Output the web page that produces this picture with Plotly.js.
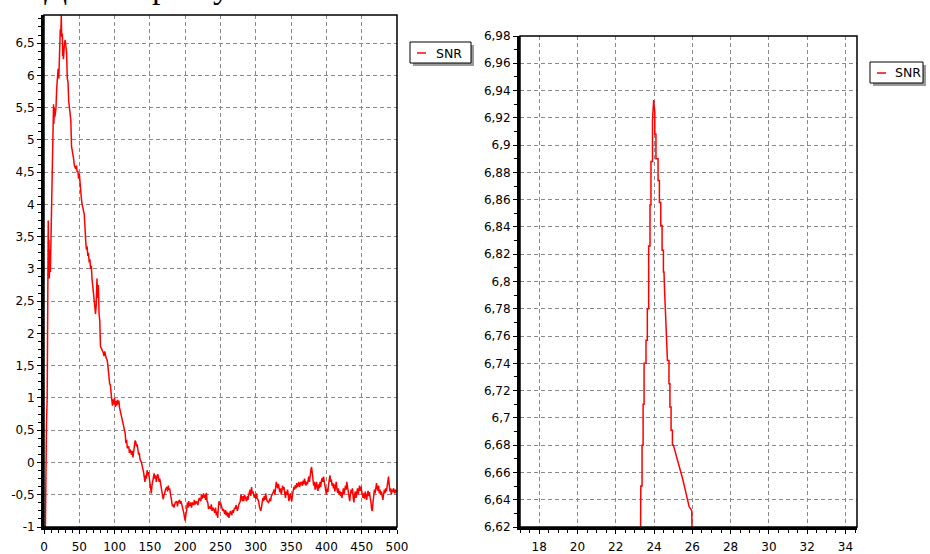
<!DOCTYPE html>
<html>
<head>
<meta charset="utf-8">
<script src="https://cdn.plot.ly/plotly-3.0.1.min.js"></script>
<style>
html,body{margin:0;padding:0;background:#fff;width:930px;height:554px;overflow:hidden;}
#left{position:absolute;left:0;top:0;width:476px;height:554px;}
#right{position:absolute;left:476px;top:0;width:454px;height:554px;}
#head{position:absolute;left:0;top:0;width:470px;height:14px;overflow:hidden;z-index:5;
      font-family:'Liberation Serif','Times New Roman',serif;font-size:34px;color:#000;}
#head span{position:absolute;top:-33px;line-height:40px;white-space:pre;}
</style>
</head>
<body>
<div id="left"></div>
<div id="right"></div>
<div id="head"><span style="left:44px">Д</span><span style="left:152px">р</span><span style="left:213px">у</span></div>
<script>
// ---------- DATA ----------
const seriesName = 'SNR';

// full run (left chart)
const snrX = [0,1,2,2.4,3.5,4.5,5,5.5,6,6.5,7,7.5,8,9,9.5,10,11,11.5,12,13,13.5,14,14.5,15,16,17,18,19,20,21,22,23,24,24.5,25,26,26.5,27,27.5,28,29,30,31,32,33,34,35,36,37,38,39,40,41,42,43,44,45,46,47,48,49,50,51,52,53,54,55,56,57,58,59,60,61,62,63,64,65,66,67,68,69,70,71,72,73,74,75,76,77,78,79,80,81,82,84,85,86,88,89,90,91,92,93,94,95,96,97,98,99,100,101,102,103,104,105,106,107,108,110,111,113,115,116,117,118,120,121,122,124,125,126,127,128,129,130,131,132,134,135,136,138,139,140,141,142,143,144,145,146,147,148,149,150,151,152,153,154,155,156,157,158,159,160,161,162,163,164,165,166,167,168,169,170,171,172,174,175,176,177,178,179,180,181,182,183,184,186,188,189,190,192,193,194,196,197,198,199,200,201,202,203,204,205,206,208,209,210,212,213,214,216,218,219,220,222,223,224,226,227,228,229,230,231,232,233,234,236,237,238,239,240,242,243,244,245,246,247,248,249,250,252,253,254,256,257,258,259,260,261,262,263,264,266,267,268,270,271,272,273,274,276,278,279,280,281,282,283,284,286,287,288,289,290,292,293,294,295,296,298,299,300,301,302,304,305,306,307,308,309,310,311,312,313,314,315,316,318,320,321,322,324,326,327,328,329,330,331,332,333,334,335,336,337,338,339,340,341,342,343,344,345,346,347,348,349,350,351,352,353,354,355,356,357,358,359,360,361,362,363,364,366,367,368,369,370,371,372,373,374,375,376,377,378,379,380,381,382,383,384,385,386,387,388,389,390,391,392,393,394,395,396,397,398,399,400,401,402,403,404,405,406,407,408,409,410,411,412,413,414,415,416,417,418,419,420,421,422,423,424,425,426,427,428,429,430,431,432,433,434,435,436,437,438,439,440,441,442,443,444,445,446,447,448,449,450,451,452,453,454,455,456,457,458,459,460,461,462,463,464,465,466,467,468,469,470,471,472,473,474,475,476,477,478,479,480,481,482,483,484,485,486,487,488,489,490,491,492,493,494,495,496,497,498,499,500];
const snrY = [-1.05,-1.05,-1.0,0.35,0.6,1.0,2.6,2.7,3.75,3.1,3.45,2.85,3.3,2.95,3.3,3.2,3.9,4.7,4.8,5.3,5.55,5.25,5.5,5.35,5.4,5.5,5.8,6.05,6.1,5.95,6.35,6.7,6.72,6.93,6.6,6.65,6.3,6.45,6.25,6.4,6.5,6.55,6.4,6.35,5.95,5.9,5.6,5.45,5.4,5.3,4.9,4.85,4.8,4.7,4.6,4.58,4.55,4.6,4.5,4.52,4.4,4.48,4.3,4.1,4.08,4.0,3.92,3.9,3.85,3.5,3.45,3.3,3.35,3.2,3.25,3.1,3.15,3.0,3.05,2.85,2.75,2.6,2.5,2.4,2.3,2.45,2.85,2.55,2.75,2.3,2.2,1.8,1.78,1.75,1.7,1.65,1.72,1.62,1.6,1.55,1.4,1.35,1.22,1.2,1.0,0.97,0.88,0.98,0.9,1.0,0.86,0.95,0.88,0.97,0.9,0.96,0.85,0.8,0.72,0.65,0.6,0.45,0.3,0.35,0.22,0.25,0.15,0.2,0.12,0.18,0.08,0.2,0.3,0.34,0.32,0.25,0.28,0.12,0.15,0.05,0.0,-0.08,-0.1,-0.15,-0.28,-0.3,-0.2,-0.25,-0.12,-0.2,-0.15,-0.22,-0.3,-0.4,-0.48,-0.35,-0.3,-0.22,-0.17,-0.25,-0.2,-0.3,-0.25,-0.18,-0.22,-0.3,-0.25,-0.35,-0.42,-0.45,-0.52,-0.57,-0.5,-0.48,-0.42,-0.38,-0.45,-0.36,-0.42,-0.4,-0.48,-0.55,-0.62,-0.68,-0.65,-0.7,-0.62,-0.6,-0.68,-0.62,-0.58,-0.64,-0.6,-0.68,-0.72,-0.78,-0.85,-0.9,-0.8,-0.75,-0.62,-0.7,-0.6,-0.68,-0.62,-0.7,-0.62,-0.66,-0.58,-0.65,-0.6,-0.66,-0.58,-0.55,-0.6,-0.5,-0.56,-0.48,-0.55,-0.5,-0.58,-0.47,-0.6,-0.62,-0.72,-0.68,-0.72,-0.65,-0.75,-0.7,-0.72,-0.78,-0.7,-0.82,-0.76,-0.86,-0.7,-0.6,-0.66,-0.62,-0.7,-0.75,-0.72,-0.8,-0.74,-0.82,-0.76,-0.84,-0.78,-0.86,-0.8,-0.75,-0.82,-0.74,-0.78,-0.7,-0.72,-0.66,-0.7,-0.75,-0.65,-0.6,-0.5,-0.55,-0.6,-0.52,-0.6,-0.5,-0.55,-0.6,-0.52,-0.58,-0.5,-0.42,-0.52,-0.38,-0.48,-0.45,-0.55,-0.5,-0.56,-0.48,-0.55,-0.6,-0.68,-0.72,-0.75,-0.7,-0.62,-0.55,-0.6,-0.52,-0.58,-0.48,-0.55,-0.6,-0.62,-0.56,-0.6,-0.52,-0.48,-0.42,-0.5,-0.38,-0.3,-0.36,-0.4,-0.33,-0.42,-0.46,-0.4,-0.5,-0.44,-0.36,-0.42,-0.38,-0.48,-0.55,-0.45,-0.5,-0.42,-0.56,-0.6,-0.52,-0.48,-0.56,-0.6,-0.5,-0.45,-0.38,-0.42,-0.35,-0.4,-0.32,-0.38,-0.34,-0.3,-0.38,-0.33,-0.3,-0.36,-0.28,-0.34,-0.25,-0.3,-0.36,-0.3,-0.34,-0.28,-0.22,-0.3,-0.18,-0.12,-0.07,-0.15,-0.3,-0.36,-0.3,-0.42,-0.36,-0.3,-0.4,-0.44,-0.34,-0.4,-0.3,-0.38,-0.28,-0.24,-0.3,-0.22,-0.3,-0.36,-0.44,-0.5,-0.4,-0.46,-0.35,-0.28,-0.2,-0.3,-0.26,-0.36,-0.32,-0.4,-0.34,-0.45,-0.38,-0.3,-0.42,-0.47,-0.4,-0.5,-0.44,-0.52,-0.46,-0.55,-0.48,-0.4,-0.5,-0.45,-0.36,-0.42,-0.3,-0.38,-0.45,-0.55,-0.6,-0.5,-0.42,-0.48,-0.4,-0.55,-0.62,-0.5,-0.45,-0.55,-0.48,-0.4,-0.5,-0.45,-0.36,-0.44,-0.38,-0.45,-0.5,-0.55,-0.48,-0.56,-0.45,-0.5,-0.58,-0.5,-0.44,-0.52,-0.46,-0.55,-0.6,-0.72,-0.75,-0.62,-0.5,-0.42,-0.48,-0.38,-0.32,-0.4,-0.44,-0.36,-0.48,-0.42,-0.5,-0.45,-0.52,-0.58,-0.5,-0.42,-0.48,-0.4,-0.45,-0.38,-0.28,-0.22,-0.35,-0.45,-0.4,-0.5,-0.42,-0.46,-0.4,-0.44,-0.48,-0.42,-0.45,-0.44];

// peak detail (right chart)
const peakX = [23.29,23.31,23.31,23.375,23.375,23.43,23.43,23.48,23.48,23.58,23.58,23.65,23.65,23.72,23.72,23.79,23.79,23.84,23.84,23.92,23.92,23.98,24.04,24.04,24.10,24.10,24.21,24.21,24.28,24.28,24.35,24.35,24.42,24.42,24.49,24.49,24.52,24.56,24.62,24.70,24.70,24.78,24.78,24.83,24.83,24.89,24.89,24.96,24.96,25.01,25.25,25.5,25.7,25.83,25.97,25.99,26.0];
const peakY = [6.60,6.62,6.65,6.65,6.68,6.68,6.71,6.71,6.74,6.74,6.757,6.757,6.78,6.78,6.826,6.826,6.856,6.856,6.888,6.888,6.918,6.933,6.924,6.908,6.908,6.890,6.890,6.874,6.874,6.858,6.858,6.841,6.841,6.823,6.823,6.807,6.807,6.79,6.77,6.75,6.742,6.742,6.725,6.725,6.708,6.708,6.691,6.691,6.68,6.68,6.668,6.655,6.643,6.635,6.632,6.62,6.60];

// ticks
const leftXTickVals = [0,50,100,150,200,250,300,350,400,450,500];
const leftXTickText = ['0','50','100','150','200','250','300','350','400','450','500'];
const leftYTickVals = [-1,-0.5,0,0.5,1,1.5,2,2.5,3,3.5,4,4.5,5,5.5,6,6.5];
const leftYTickText = ['-1','-0,5','0','0,5','1','1,5','2','2,5','3','3,5','4','4,5','5','5,5','6','6,5'];
const rightXTickVals = [18,20,22,24,26,28,30,32,34];
const rightXTickText = ['18','20','22','24','26','28','30','32','34'];
const rightYTickVals = [6.62,6.64,6.66,6.68,6.70,6.72,6.74,6.76,6.78,6.80,6.82,6.84,6.86,6.88,6.90,6.92,6.94,6.96,6.98];
const rightYTickText = ['6,62','6,64','6,66','6,68','6,7','6,72','6,74','6,76','6,78','6,8','6,82','6,84','6,86','6,88','6,9','6,92','6,94','6,96','6,98'];

// ---------- STYLE ----------
const FONT = {family: 'DejaVu Sans, Verdana, sans-serif', size: 12, color: '#000'};
const GRID = {showgrid: true, gridcolor: '#8a8a8a', gridwidth: 1, griddash: '4px,3px'};

function axis(range, vals, text, minorDtick) {
  return Object.assign({
    range: range, autorange: false, tickmode: 'array', tickvals: vals, ticktext: text,
    ticks: 'outside', ticklen: 4, tickwidth: 1, tickcolor: '#000',
    showline: true, linecolor: '#000', linewidth: 3, zeroline: false,
    tickfont: FONT, fixedrange: true,
    minor: {tickmode: 'linear', tick0: range[0] < 0 ? -1 : 0, dtick: minorDtick, ticks: 'outside', ticklen: 3, tickcolor: '#000', showgrid: false}
  }, GRID);
}

// legend box built from pixel geometry of the plot area
function legendParts(box, dash, textX, textY, toPaper) {
  const a = toPaper(box[0], box[1]), b = toPaper(box[2], box[3]);
  const sa = toPaper(box[0] + 3, box[1] + 3), sb = toPaper(box[2] + 3, box[3] + 3);
  const d1 = toPaper(dash[0], dash[2]), d2 = toPaper(dash[1], dash[2]);
  const t = toPaper(textX, textY);
  return {
    shapes: [
      {type: 'rect', xref: 'paper', yref: 'paper', x0: sa[0], y0: sa[1], x1: sb[0], y1: sb[1], fillcolor: '#9a9a9a', line: {width: 0}},
      {type: 'rect', xref: 'paper', yref: 'paper', x0: a[0], y0: a[1], x1: b[0], y1: b[1], fillcolor: '#fff', line: {color: '#000', width: 1}},
      {type: 'line', xref: 'paper', yref: 'paper', x0: d1[0], y0: d1[1], x1: d2[0], y1: d2[1], line: {color: '#ff0000', width: 1.5}}
    ],
    annotations: [
      {xref: 'paper', yref: 'paper', x: t[0], y: t[1], xanchor: 'left', yanchor: 'middle', text: seriesName, showarrow: false, font: {family: FONT.family, size: 12.5, color: '#000'}}
    ]
  };
}

function frame() {
  return {type: 'rect', xref: 'paper', yref: 'paper', x0: 0, y0: 0, x1: 1, y1: 1, line: {color: '#000', width: 1.5}, layer: 'above'};
}

// ---------- LEFT CHART ----------
(function () {
  const W = 476, H = 554, m = {l: 44, r: 79, t: 15, b: 27, pad: 0};
  const pw = W - m.l - m.r, ph = H - m.t - m.b;
  const toPaper = (px, py) => [(px - m.l) / pw, (H - m.b - py) / ph];
  const lg = legendParts([410, 42, 471, 63], [417, 426, 53], 434, 53, toPaper);
  const layout = {
    width: W, height: H, margin: m, paper_bgcolor: 'rgba(0,0,0,0)', plot_bgcolor: '#fff',
    separators: ', ', showlegend: false, font: FONT,
    xaxis: axis([0, 500], leftXTickVals, leftXTickText, 10),
    yaxis: axis([-1, 6.935], leftYTickVals, leftYTickText, 0.125),
    shapes: [frame()].concat(lg.shapes), annotations: lg.annotations
  };
  layout.xaxis.ticklabelstandoff = 3;
  Plotly.newPlot('left', [{x: snrX, y: snrY, type: 'scatter', mode: 'lines', name: seriesName, line: {color: '#ff0000', width: 1.5}}], layout, {staticPlot: true, displayModeBar: false});
})();

// ---------- RIGHT CHART ----------
(function () {
  const W = 454, H = 554, OFF = 476, m = {l: 44, r: 73, t: 36, b: 27, pad: 0};
  const pw = W - m.l - m.r, ph = H - m.t - m.b;
  const toPaper = (px, py) => [(px - OFF - m.l) / pw, (H - m.b - py) / ph];
  const lg = legendParts([870, 62, 923, 83], [877, 886, 73], 893, 73, toPaper);
  const layout = {
    width: W, height: H, margin: m, paper_bgcolor: 'rgba(0,0,0,0)', plot_bgcolor: '#fff',
    separators: ', ', showlegend: false, font: FONT,
    xaxis: axis([17, 34.6], rightXTickVals, rightXTickText, 0.5),
    yaxis: axis([6.62, 6.98], rightYTickVals, rightYTickText, 0.01),
    shapes: [frame()].concat(lg.shapes), annotations: lg.annotations
  };
  layout.xaxis.ticklabelstandoff = 3;
  Plotly.newPlot('right', [{x: peakX, y: peakY, type: 'scatter', mode: 'lines', name: seriesName, line: {color: '#ff0000', width: 1.5}}], layout, {staticPlot: true, displayModeBar: false});
})();
</script>
</body>
</html>
